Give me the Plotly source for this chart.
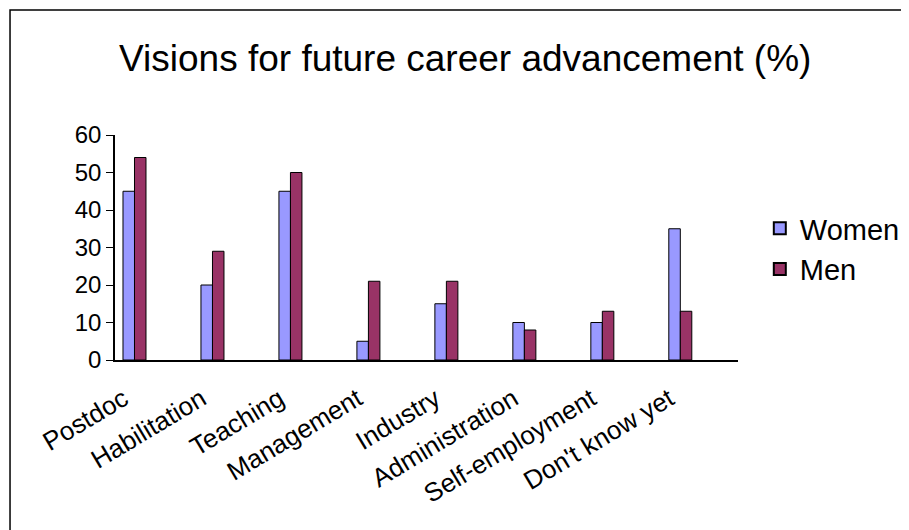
import plotly.graph_objects as go

categories = ["Postdoc", "Habilitation", "Teaching", "Management", "Industry",
              "Administration", "Self-employment", "Don't know yet"]
women = [45, 20, 45, 5, 15, 10, 10, 35]
men = [54, 29, 50, 21, 21, 8, 13, 13]
y_ticks = [0, 10, 20, 30, 40, 50, 60]

FONT = "Liberation Sans, Arial, sans-serif"
x_idx = list(range(len(categories)))

fig = go.Figure()
fig.add_trace(go.Bar(x=x_idx, y=women, name="Women",
                     marker=dict(color="#9999FF", line=dict(color="#000000", width=1))))
fig.add_trace(go.Bar(x=x_idx, y=men, name="Men",
                     marker=dict(color="#993366", line=dict(color="#000000", width=1))))

fig.update_layout(
    width=909, height=530,
    margin=dict(l=107, r=179, t=127, b=178),
    paper_bgcolor="white", plot_bgcolor="white",
    font=dict(family=FONT, color="black"),
    barmode="group", bargap=0.705, bargroupgap=0,
    title=dict(text="Visions for future career advancement (%)",
               x=0.503, xanchor="center", y=0.906, yanchor="middle",
               font=dict(size=37, family=FONT, color="black")),
    legend=dict(x=1.035, xanchor="left", y=0.698, yanchor="top",
                font=dict(size=29, family=FONT, color="black"),
                bgcolor="rgba(0,0,0,0)", itemsizing="constant"),
    xaxis=dict(range=[-0.25, 7.74], tickmode="array", tickvals=x_idx,
               ticktext=categories, tickangle=-31,
               tickfont=dict(size=26, family=FONT, color="black"),
               ticklabelstandoff=12, ticklabelshift=-11,
               showline=True, linecolor="black", linewidth=1.5,
               showgrid=False, zeroline=False, ticks=""),
    yaxis=dict(range=[0, 60], tickmode="array", tickvals=y_ticks,
               tickfont=dict(size=24, family=FONT, color="black"),
               showline=True, linecolor="black", linewidth=1.5,
               ticks="outside", ticklen=7, tickcolor="black",
               showgrid=False, zeroline=False),
    shapes=[dict(type="rect", xref="paper", yref="paper",
                 x0=-0.1685, x1=1.30, y0=-0.85, y1=1.5556,
                 line=dict(color="black", width=1.5), fillcolor="rgba(0,0,0,0)",
                 layer="below")],
)

fig.write_html("out.html")
